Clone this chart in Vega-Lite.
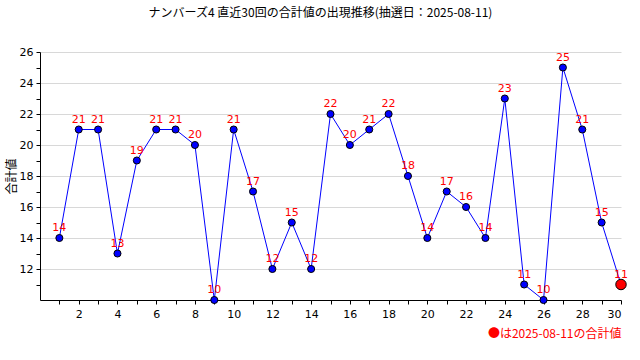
{
  "$schema": "https://vega.github.io/schema/vega-lite/v6.json",
  "width": 581,
  "height": 248,
  "autosize": {"type": "none"},
  "padding": {"left": 40, "top": 52, "right": 19, "bottom": 60},
  "background": "white",
  "title": {
    "text": "ナンバーズ4 直近30回の合計値の出現推移(抽選日：2025-08-11)",
    "font": "Noto Sans CJK JP",
    "fontSize": 12,
    "fontWeight": "normal",
    "color": "black",
    "anchor": "middle",
    "offset": 26,
    "dx": -10
  },
  "data": {
    "values": [
      {"kai": 1, "sum": 14, "latest": "no"},
      {"kai": 2, "sum": 21, "latest": "no"},
      {"kai": 3, "sum": 21, "latest": "no"},
      {"kai": 4, "sum": 13, "latest": "no"},
      {"kai": 5, "sum": 19, "latest": "no"},
      {"kai": 6, "sum": 21, "latest": "no"},
      {"kai": 7, "sum": 21, "latest": "no"},
      {"kai": 8, "sum": 20, "latest": "no"},
      {"kai": 9, "sum": 10, "latest": "no"},
      {"kai": 10, "sum": 21, "latest": "no"},
      {"kai": 11, "sum": 17, "latest": "no"},
      {"kai": 12, "sum": 12, "latest": "no"},
      {"kai": 13, "sum": 15, "latest": "no"},
      {"kai": 14, "sum": 12, "latest": "no"},
      {"kai": 15, "sum": 22, "latest": "no"},
      {"kai": 16, "sum": 20, "latest": "no"},
      {"kai": 17, "sum": 21, "latest": "no"},
      {"kai": 18, "sum": 22, "latest": "no"},
      {"kai": 19, "sum": 18, "latest": "no"},
      {"kai": 20, "sum": 14, "latest": "no"},
      {"kai": 21, "sum": 17, "latest": "no"},
      {"kai": 22, "sum": 16, "latest": "no"},
      {"kai": 23, "sum": 14, "latest": "no"},
      {"kai": 24, "sum": 23, "latest": "no"},
      {"kai": 25, "sum": 11, "latest": "no"},
      {"kai": 26, "sum": 10, "latest": "no"},
      {"kai": 27, "sum": 25, "latest": "no"},
      {"kai": 28, "sum": 21, "latest": "no"},
      {"kai": 29, "sum": 15, "latest": "no"},
      {"kai": 30, "sum": 11, "latest": "yes"}
    ]
  },
  "encoding": {
    "x": {
      "field": "kai",
      "type": "quantitative",
      "scale": {"domain": [0, 30], "nice": false, "zero": false},
      "axis": {
        "values": [1,2,3,4,5,6,7,8,9,10,11,12,13,14,15,16,17,18,19,20,21,22,23,24,25,26,27,28,29,30],
        "labelExpr": "datum.value % 2 === 0 ? datum.label : ''",
        "grid": false,
        "domainColor": "black",
        "tickColor": "black",
        "tickSize": 4,
        "labelColor": "black",
        "labelFont": "DejaVu Sans",
        "labelFontSize": 11,
        "labelPadding": 4,
        "title": "●は2025-08-11の合計値",
        "titleColor": "red",
        "titleFont": "Noto Sans CJK JP",
        "titleFontSize": 12,
        "titleFontWeight": "normal",
        "titleAnchor": "end",
        "titlePadding": 9
      }
    },
    "y": {
      "field": "sum",
      "type": "quantitative",
      "scale": {"domain": [10, 26], "nice": false, "zero": false},
      "axis": {
        "values": [11,12,13,14,15,16,17,18,19,20,21,22,23,24,25,26],
        "labelExpr": "datum.value % 2 === 0 ? datum.label : ''",
        "grid": true,
        "gridColor": "#d8d8d8",
        "gridOpacity": {"condition": {"test": "datum.value % 2 === 1", "value": 0}, "value": 1},
        "domainColor": "black",
        "tickColor": "black",
        "tickSize": 4,
        "labelColor": "black",
        "labelFont": "DejaVu Sans",
        "labelFontSize": 11,
        "labelPadding": 3,
        "title": "合計値",
        "titleColor": "black",
        "titleFont": "Noto Sans CJK JP",
        "titleFontSize": 12,
        "titleFontWeight": "normal",
        "titlePadding": 1
      }
    }
  },
  "layer": [
    {
      "mark": {"type": "line", "color": "blue", "strokeWidth": 1}
    },
    {
      "mark": {"type": "point", "filled": true, "stroke": "black", "strokeWidth": 1, "opacity": 1},
      "encoding": {
        "color": {
          "field": "latest",
          "type": "nominal",
          "scale": {"domain": ["no", "yes"], "range": ["blue", "red"]},
          "legend": null
        },
        "size": {
          "field": "latest",
          "type": "nominal",
          "scale": {"domain": ["no", "yes"], "range": [50, 110]},
          "legend": null
        },
        "stroke": {"value": "black"}
      }
    },
    {
      "mark": {"type": "text", "color": "red", "font": "DejaVu Sans", "fontSize": 11, "baseline": "middle", "dy": -10},
      "encoding": {
        "text": {"field": "sum", "type": "quantitative"}
      }
    }
  ],
  "config": {
    "view": {"stroke": null}
  }
}
